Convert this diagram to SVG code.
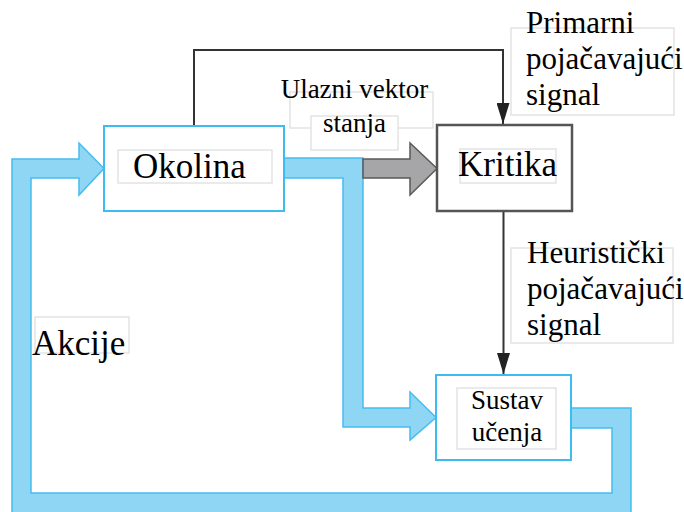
<svg xmlns="http://www.w3.org/2000/svg" width="684" height="512" viewBox="0 0 684 512">
<defs>
  <marker id="ah" markerUnits="userSpaceOnUse" markerWidth="21" markerHeight="13" viewBox="0 0 21 13" refX="21" refY="6.5" orient="auto">
    <path d="M0,0 L21,6.5 L0,13 Z" fill="#222"/>
  </marker>
</defs>
<rect width="684" height="512" fill="#fff"/>
<g id="connectors">
  <g fill="#8fd5f4" stroke="#45bdf0" stroke-width="1.5">
    <path d="M571,408 H631 V513 H12 V159 H79 V143 L104,168.5 L79,195 V178 H31 V493 H612 V428 H571 Z"/>
    <path d="M284,158 H363 V408 H410 V392 L436,417.5 L410,440 V427 H343 V178 H284 Z"/>
  </g>
  <path d="M363,159 H410 V143 L437,168.5 L410,195 V178 H363 Z" fill="#a6a6a9" stroke="#5a5a5a" stroke-width="1.5"/>
  <g fill="none" stroke="#333" stroke-width="2" marker-end="url(#ah)">
    <path d="M194,126 V50 H503 V124"/>
    <path d="M503.5,211 V374"/>
  </g>
</g>
<g id="okolina">
  <rect x="104" y="126" width="180" height="85" fill="#fff" stroke="#3dbcf2" stroke-width="2"/>
  <rect x="118" y="150" width="154" height="33" fill="#fff" stroke="#e3e3e3" stroke-width="1.5"/>
  <text x="133" y="178" font-size="35" font-family="Times New Roman">Okolina</text>
</g>
<g id="kritika">
  <rect x="437" y="125" width="135" height="86" fill="#fff" stroke="#555" stroke-width="2.5"/>
  <rect x="460" y="149" width="96" height="34" fill="#fff" stroke="#e3e3e3" stroke-width="1.5"/>
  <text x="458" y="176" font-size="35" font-family="Times New Roman">Kritika</text>
</g>
<g id="sustav">
  <rect x="436" y="375" width="135" height="85" fill="#fff" stroke="#3dbcf2" stroke-width="2"/>
  <rect x="457" y="388" width="99" height="61" fill="#fff" stroke="#e3e3e3" stroke-width="1.5"/>
  <text x="507" y="409" font-size="27" text-anchor="middle" font-family="Times New Roman">Sustav</text>
  <text x="507" y="441" font-size="27" text-anchor="middle" font-family="Times New Roman">učenja</text>
</g>
<g id="ulazni">
  <rect x="290" y="92" width="143" height="36" fill="#fff" stroke="#e3e3e3" stroke-width="1.5"/>
  <rect x="311" y="116" width="87" height="34" fill="#fff" stroke="#e3e3e3" stroke-width="1.5"/>
  <text x="354.5" y="98" font-size="27" text-anchor="middle" font-family="Times New Roman">Ulazni vektor</text>
  <text x="354.5" y="132" font-size="27" text-anchor="middle" font-family="Times New Roman">stanja</text>
</g>
<g id="primarni">
  <rect x="511" y="28" width="163" height="87" fill="#fff" stroke="#e3e3e3" stroke-width="1.5"/>
  <text x="526" y="33" font-size="31" font-family="Times New Roman">Primarni</text>
  <text x="526" y="69" font-size="31" font-family="Times New Roman">pojačavajući</text>
  <text x="526" y="105" font-size="31" font-family="Times New Roman">signal</text>
</g>
<g id="heuristicki">
  <rect x="511" y="248" width="162" height="95" fill="#fff" stroke="#e3e3e3" stroke-width="1.5"/>
  <text x="527" y="263" font-size="31" font-family="Times New Roman">Heuristički</text>
  <text x="527" y="299" font-size="31" font-family="Times New Roman">pojačavajući</text>
  <text x="527" y="335" font-size="31" font-family="Times New Roman">signal</text>
</g>
<g id="akcije">
  <rect x="35" y="317" width="94" height="36" fill="#fff" stroke="#e3e3e3" stroke-width="1.5"/>
  <text x="32" y="355" font-size="35" font-family="Times New Roman">Akcije</text>
</g>
</svg>
